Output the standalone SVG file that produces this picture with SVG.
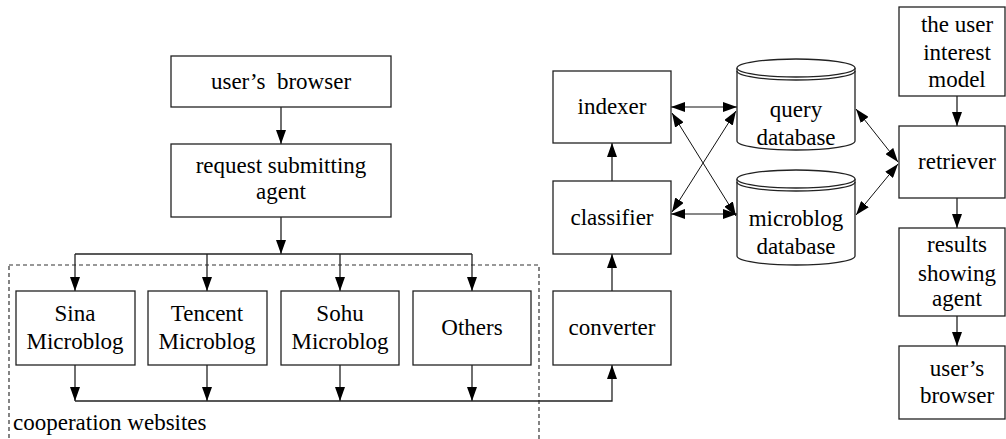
<svg xmlns="http://www.w3.org/2000/svg" width="1006" height="439" viewBox="0 0 1006 439">
<style>
.box{fill:#fff;stroke:#222;stroke-width:1.3}
text{font-family:'Liberation Serif','Times New Roman',Tinos,'DejaVu Serif',serif;font-size:23px;fill:#000}
.t{text-anchor:middle}
.ln{fill:none;stroke:#222;stroke-width:1.3}
.thin{fill:none;stroke:#111;stroke-width:1}
.arr{marker-end:url(#ah)}
.dbl{marker-end:url(#ah2);marker-start:url(#ah2)}
</style>
<defs>
<marker id="ah" markerUnits="userSpaceOnUse" markerWidth="14" markerHeight="10" refX="14" refY="5" orient="auto" viewBox="0 0 14 10">
<path d="M0,0 L14,5 L0,10 z" fill="#000"/>
</marker>
<marker id="ah2" markerUnits="userSpaceOnUse" markerWidth="14" markerHeight="10" refX="14" refY="5" orient="auto-start-reverse" viewBox="0 0 14 10">
<path d="M0,0 L14,5 L0,10 z" fill="#000"/>
</marker>
</defs>
<rect width="1006" height="439" fill="#fff"/>

<g id="cooperation-websites">
<rect x="9" y="265" width="530" height="190" fill="none" stroke="#333" stroke-width="1.2" stroke-dasharray="4,3"/>
<text x="13" y="430" font-family="Liberation Serif, serif">cooperation websites</text>
</g>

<g id="connectors">
<line class="ln arr" x1="281" y1="107" x2="281" y2="144"/>
<line class="ln arr" x1="281" y1="217" x2="281" y2="254"/>
<line class="ln" x1="75" y1="254" x2="472" y2="254"/>
<line class="ln arr" x1="75" y1="254" x2="75" y2="291"/>
<line class="ln arr" x1="207" y1="254" x2="207" y2="291"/>
<line class="ln arr" x1="340" y1="254" x2="340" y2="291"/>
<line class="ln arr" x1="472" y1="254" x2="472" y2="291"/>
<line class="ln arr" x1="75" y1="365" x2="75" y2="401"/>
<line class="ln arr" x1="207" y1="365" x2="207" y2="401"/>
<line class="ln arr" x1="340" y1="365" x2="340" y2="401"/>
<line class="ln arr" x1="472" y1="365" x2="472" y2="401"/>
<polyline class="ln arr" points="75,401 612,401 612,365"/>
<line class="ln arr" x1="612" y1="291" x2="612" y2="254"/>
<line class="ln arr" x1="612" y1="181" x2="612" y2="143"/>
<line class="thin dbl" x1="671" y1="107" x2="737" y2="107"/>
<line class="thin dbl" x1="671" y1="214" x2="737" y2="214"/>
<line class="thin dbl" x1="672" y1="113" x2="736" y2="216"/>
<line class="thin dbl" x1="736" y1="111" x2="672" y2="212"/>
<line class="thin dbl" x1="856" y1="109" x2="898" y2="162"/>
<line class="thin dbl" x1="856" y1="215" x2="898" y2="164"/>
<line class="ln arr" x1="957" y1="96" x2="957" y2="126"/>
<line class="ln arr" x1="957" y1="198" x2="957" y2="228"/>
<line class="ln arr" x1="957" y1="316" x2="957" y2="346"/>
</g>

<g id="users-browser-left">
<rect class="box" x="171" y="56" width="220" height="51"/>
<text class="t" x="281" y="89" xml:space="preserve">user’s  browser</text>
</g>
<g id="request-submitting-agent">
<rect class="box" x="171" y="144" width="220" height="73"/>
<text class="t" x="281" y="173">request submitting</text>
<text class="t" x="281" y="199">agent</text>
</g>
<g id="sina">
<rect class="box" x="16" y="291" width="119" height="74"/>
<text class="t" x="75" y="321">Sina</text>
<text class="t" x="75" y="349">Microblog</text>
</g>
<g id="tencent">
<rect class="box" x="148" y="291" width="119" height="74"/>
<text class="t" x="207" y="321">Tencent</text>
<text class="t" x="207" y="349">Microblog</text>
</g>
<g id="sohu">
<rect class="box" x="281" y="291" width="118" height="74"/>
<text class="t" x="340" y="321">Sohu</text>
<text class="t" x="340" y="349">Microblog</text>
</g>
<g id="others">
<rect class="box" x="413" y="291" width="118" height="74"/>
<text class="t" x="472" y="335">Others</text>
</g>
<g id="converter">
<rect class="box" x="553" y="291" width="118" height="74"/>
<text class="t" x="612" y="335">converter</text>
</g>
<g id="classifier">
<rect class="box" x="553" y="181" width="118" height="73"/>
<text class="t" x="612" y="225">classifier</text>
</g>
<g id="indexer">
<rect class="box" x="553" y="71" width="118" height="72"/>
<text class="t" x="612" y="114">indexer</text>
</g>
<g id="query-database">
<path class="box" d="M737,68 L737,141 A59,9 0 0 0 855,141 L855,68"/>
<ellipse class="box" cx="796" cy="68" rx="59" ry="9"/>
<path class="ln" d="M737,71 A59,9 0 0 0 855,71"/>
<text class="t" x="796" y="117">query</text>
<text class="t" x="796" y="145">database</text>
</g>
<g id="microblog-database">
<path class="box" d="M737,179 L737,256 A59,9 0 0 0 855,256 L855,179"/>
<ellipse class="box" cx="796" cy="179" rx="59" ry="9"/>
<path class="ln" d="M737,182 A59,9 0 0 0 855,182"/>
<text class="t" x="796" y="226">microblog</text>
<text class="t" x="796" y="254">database</text>
</g>
<g id="user-interest-model">
<rect class="box" x="899" y="7" width="106" height="89"/>
<text class="t" x="957" y="32">the user</text>
<text class="t" x="957" y="60">interest</text>
<text class="t" x="957" y="87">model</text>
</g>
<g id="retriever">
<rect class="box" x="899" y="126" width="106" height="72"/>
<text class="t" x="957" y="169">retriever</text>
</g>
<g id="results-showing-agent">
<rect class="box" x="899" y="228" width="106" height="88"/>
<text class="t" x="957" y="252">results</text>
<text class="t" x="957" y="281">showing</text>
<text class="t" x="957" y="306">agent</text>
</g>
<g id="users-browser-right">
<rect class="box" x="899" y="346" width="106" height="73"/>
<text class="t" x="957" y="376">user’s</text>
<text class="t" x="957" y="403">browser</text>
</g>
</svg>
